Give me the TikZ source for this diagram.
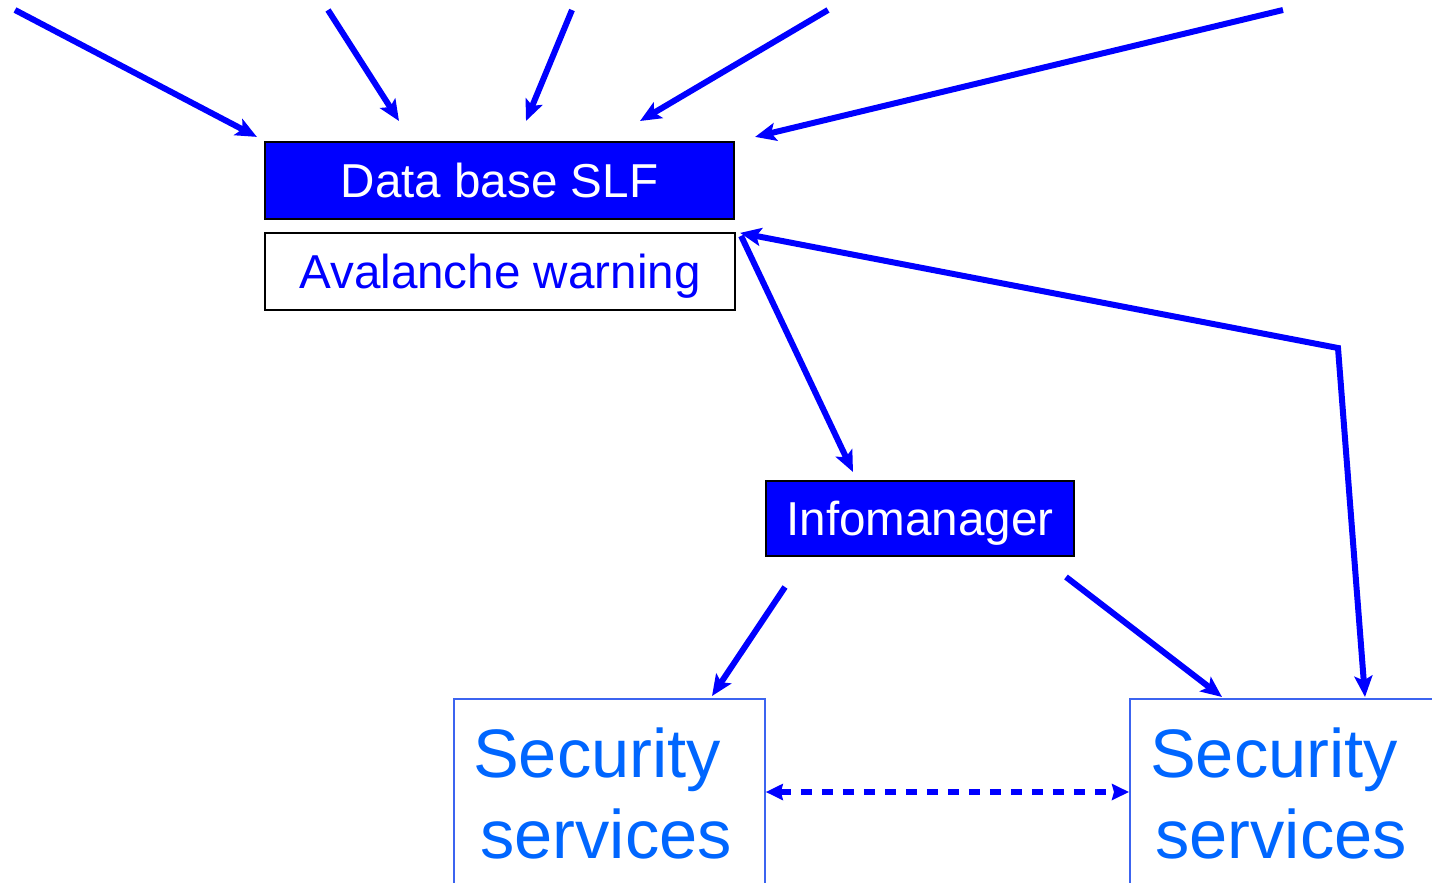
\documentclass[tikz,border=0pt]{standalone}
\usepackage{fontspec}
\setmainfont{Liberation Sans}
\usetikzlibrary{arrows.meta,calc}
\definecolor{pblue}{RGB}{0,0,255}
\definecolor{sblue}{RGB}{0,102,255}
\definecolor{sframe}{RGB}{60,100,240}
\begin{document}
\begin{tikzpicture}[x=1pt,y=-1pt,
  bluebox/.style={draw=black,line width=2.2pt,fill=pblue,text=white,inner sep=0pt,text height=34pt,text depth=0pt,font=\fontsize{47.6}{56}\selectfont},
  whitebox/.style={draw=black,line width=2.2pt,fill=white,text=pblue,inner sep=0pt,text height=34pt,text depth=0pt,font=\fontsize{47.6}{56}\selectfont},
  secbox/.style={draw=sframe,line width=1.8pt,inner sep=0pt,anchor=north west},
  sectext/.style={text=sblue,inner sep=0pt,anchor=base west,font=\fontsize{68.6}{82}\selectfont},
  arr/.style={draw=pblue,line width=6pt,-{Stealth[length=21pt,width=18pt,inset=4.5pt]}},
  dbl/.style={draw=pblue,line width=6pt,{Stealth[length=21pt,width=18pt,inset=4.5pt]}-{Stealth[length=21pt,width=18pt,inset=4.5pt]}},
  dsh/.style={draw=pblue,line width=6pt,dash pattern=on 11pt off 10pt,{Stealth[length=17pt,width=16pt,inset=2pt]}-{Stealth[length=17pt,width=16pt,inset=2pt]}}
]
\useasboundingbox (0,0) rectangle (1432,883);

% boxes
\node[bluebox,minimum width=469pt,minimum height=77pt] (db) at (499.5,180.5) {Data base SLF};
\node[whitebox,minimum width=470pt,minimum height=77pt] (aw) at (500,271.5) {Avalanche warning};
\node[bluebox,minimum width=308pt,minimum height=75pt] (im) at (920,518.5) {Infomanager};
\node[secbox,minimum width=311pt,minimum height=260pt] (ssl) at (453,698) {};
\node[secbox,minimum width=400pt,minimum height=260pt] (ssr) at (1129,698) {};
\node[sectext] (ssl1) at (473,777) {Security};
\node[sectext] (ssl2) at (480,858) {services};
\node[sectext] (ssr1) at (1150,777) {Security};
\node[sectext] (ssr2) at (1155,858) {services};

% free ends and connector points
\coordinate (s1) at (15,10);
\coordinate (s2) at (328,10);
\coordinate (s3) at (572,10);
\coordinate (s4) at (828,10);
\coordinate (s5) at (1283,10);
\coordinate (e1) at ($(db.north west)+(-7,-4)$);
\coordinate (e2) at (399,121);
\coordinate (e3) at (526,121);
\coordinate (e4) at (640,121);
\coordinate (e5) at ($(db.north east)+(20,-4)$);
\coordinate (awc) at ($(aw.north east)+(4,1)$);
\coordinate (awd) at ($(aw.north east)+(5,4)$);
\coordinate (bend) at (1338,348);
\coordinate (r1) at (1365,697);
\coordinate (imt) at (853,472);
\coordinate (imbl) at (785,587);
\coordinate (imbr) at (1066,577);
\coordinate (l1) at (712,696);
\coordinate (r2) at (1222,697);
\coordinate (dl) at ($(ssl.north east)+(0,94)$);
\coordinate (dr) at ($(ssr.north west)+(0,94)$);

% connectors
\draw[arr] (s1) -- (e1);
\draw[arr] (s2) -- (e2);
\draw[arr] (s3) -- (e3);
\draw[arr] (s4) -- (e4);
\draw[arr] (s5) -- (e5);
\draw[dbl] (awc) -- (bend) -- (r1);
\draw[arr] (awd) -- (imt);
\draw[arr] (imbl) -- (l1);
\draw[arr] (imbr) -- (r2);
\draw[dsh] (dl) -- (dr);
\end{tikzpicture}
\end{document}
